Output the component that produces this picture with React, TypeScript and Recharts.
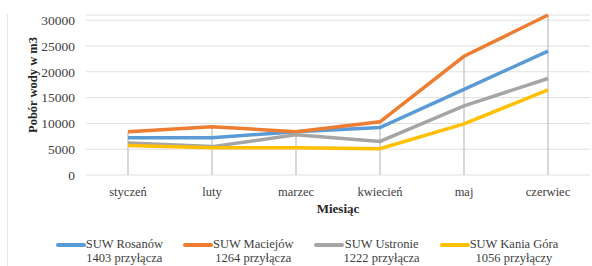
import React from 'react'
import {
  ComposedChart,
  Line,
  XAxis,
  YAxis,
  CartesianGrid,
  Legend,
  ReferenceLine
} from 'recharts'

const months = ['styczeń', 'luty', 'marzec', 'kwiecień', 'maj', 'czerwiec']
const rosanow = [7200, 7200, 8400, 9200, 16600, 24000]
const maciejow = [8400, 9350, 8400, 10300, 23000, 31000]
const ustronie = [6200, 5500, 7800, 6500, 13400, 18700]
const kaniaGora = [5700, 5300, 5300, 5100, 9900, 16500]
const yTicks = [0, 5000, 10000, 15000, 20000, 25000, 30000]

const seriesNames = ['SUW Rosanów', 'SUW Maciejów', 'SUW Ustronie', 'SUW Kania Góra']
const seriesSubs = ['1403 przyłącza', '1264 przyłącza', '1222 przyłącza', '1056 przyłączy']
const seriesKeys = ['rosanow', 'maciejow', 'ustronie', 'kania']
const colors = ['#5B9BD5', '#ED7D31', '#A5A5A5', '#FFC000']

const FONT = 'Liberation Serif, Times New Roman, serif'

const data = months.map((m, i) => ({
  month: m,
  rosanow: rosanow[i],
  maciejow: maciejow[i],
  ustronie: ustronie[i],
  kania: kaniaGora[i],
  // high-low drop line up to the highest series at each month
  top: Math.max(rosanow[i], maciejow[i], ustronie[i], kaniaGora[i])
}))

function YTitle({ viewBox }: any) {
  const x = viewBox.x + 33
  const y = viewBox.y + viewBox.height / 2 - 10
  return (
    <text
      x={x}
      y={y}
      transform={`rotate(-90, ${x}, ${y})`}
      textAnchor="middle"
      dominantBaseline="central"
      style={{ fontFamily: FONT, fontWeight: 'bold', fontSize: 12.5 }}
      fill="#262626"
    >
      Pobór wody w m3
    </text>
  )
}

function LegendContent() {
  return (
    <div
      style={{
        boxSizing: 'border-box',
        display: 'flex',
        justifyContent: 'center',
        gap: 20,
        height: 41,
        paddingTop: 12,
        paddingLeft: 24,
        fontFamily: FONT,
        fontSize: 12.5,
        lineHeight: '14px',
        color: '#404040'
      }}
    >
      {seriesNames.map((name, i) => (
        <div key={name} style={{ display: 'flex', alignItems: 'flex-start' }}>
          <div
            style={{
              width: 30,
              height: 4,
              marginTop: 6,
              borderRadius: 2,
              background: colors[i]
            }}
          />
          <div style={{ textAlign: 'center' }}>
            <div>{name}</div>
            <div>{seriesSubs[i]}</div>
          </div>
        </div>
      ))}
    </div>
  )
}

export default function App() {
  return (
    <div
      style={{
        position: 'absolute',
        left: 0,
        top: 0,
        width: 592,
        height: 266,
        background: '#fff',
        fontFamily: FONT
      }}
    >
      <div
        style={{
          position: 'absolute',
          left: 7,
          top: 14,
          width: 1,
          height: 252,
          background: '#e6e6e6'
        }}
      />
      <ComposedChart
        width={592}
        height={266}
        data={data}
        margin={{ top: 15, right: 2, left: 0, bottom: 0 }}
        style={{ fontFamily: FONT }}
      >
        <CartesianGrid vertical={false} stroke="#e0e0e0" strokeWidth={1} />
        <XAxis
          dataKey="month"
          height={50}
          padding={{ left: 42, right: 42 }}
          axisLine={false}
          tickLine={false}
          tickMargin={6}
          tick={{ fontSize: 12.5, fill: '#404040', fontFamily: FONT }}
          label={{
            value: 'Miesiąc',
            position: 'insideBottom',
            offset: 12,
            style: { fontFamily: FONT, fontWeight: 'bold', fontSize: 13, fill: '#262626' }
          }}
        />
        <YAxis
          width={86}
          domain={[0, 31000]}
          ticks={yTicks}
          interval={0}
          axisLine={false}
          tickLine={false}
          tickMargin={5}
          tick={{ fontSize: 13.5, fill: '#404040', fontFamily: FONT }}
          label={<YTitle />}
        />
        {data.map(d => (
          <ReferenceLine
            key={d.month}
            segment={[
              { x: d.month, y: 0 },
              { x: d.month, y: d.top }
            ]}
            stroke="#bfbfbf"
            strokeWidth={1.2}
          />
        ))}
        {seriesKeys.map((key, i) => (
          <Line
            key={key}
            type="linear"
            dataKey={key}
            name={seriesNames[i]}
            stroke={colors[i]}
            strokeWidth={3.5}
            dot={false}
            activeDot={false}
            isAnimationActive={false}
          />
        ))}
        <Legend verticalAlign="bottom" content={<LegendContent />} wrapperStyle={{ height: 41 }} />
      </ComposedChart>
    </div>
  )
}
